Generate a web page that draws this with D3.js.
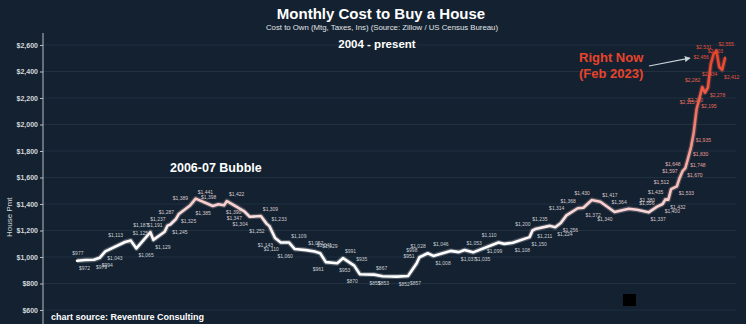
<!DOCTYPE html>
<html>
<head>
<meta charset="utf-8">
<script src="https://cdn.jsdelivr.net/npm/d3@7"></script>
<style>
  body { margin: 0; background: #132130; }
  svg { display: block; font-family: "Liberation Sans", Arial, sans-serif; }
</style>
</head>
<body>
<div id="chart"></div>
<script>
// data
const months = [
  "2004-01","2004-04","2004-07","2004-09","2004-11","2005-06","2005-08","2005-10",
  "2006-03","2006-04","2006-08","2006-09","2006-10","2006-12","2007-01","2007-05",
  "2007-07","2008-01","2008-03","2008-05","2008-06","2008-12","2009-02","2009-06",
  "2009-08","2009-09","2009-11","2010-01","2010-04","2010-06","2010-10","2011-01",
  "2011-03","2011-05","2011-09","2011-11","2012-03","2012-05","2012-10","2013-01",
  "2013-04","2013-06","2013-10","2014-01","2014-02","2014-05","2014-07","2015-01",
  "2015-04","2015-06","2015-09","2016-06","2016-08","2016-11","2017-05","2017-06",
  "2017-07","2017-12","2018-02","2018-04","2018-06","2018-10","2018-12","2019-03",
  "2019-06","2019-11","2020-04","2020-07","2020-11","2021-02","2021-04","2021-05",
  "2021-06","2021-07","2021-09","2021-10","2021-11","2021-12","2022-01","2022-02",
  "2022-03","2022-04","2022-05","2022-06","2022-07","2022-08","2022-09","2022-10",
  "2022-11","2022-12","2023-01","2023-02"
];
const payments = [
  972, 977, 979, 994, 1043, 1113, 1125, 1065,
  1187, 1129, 1191, 1237, 1245, 1287, 1325, 1389,
  1441, 1385, 1398, 1390, 1422, 1347, 1304, 1309,
  1252, 1233, 1143, 1110, 1109, 1060, 1052, 1041,
  1029, 961, 953, 991, 935, 870, 867, 855,
  853, 852, 857, 951, 998, 1028, 1008, 1046,
  1037, 1053, 1035, 1110, 1099, 1108, 1150, 1200,
  1211, 1235, 1224, 1256, 1314, 1368, 1372, 1430,
  1417, 1340, 1364, 1356, 1337, 1380, 1400, 1435,
  1432, 1512, 1533, 1597, 1648, 1670, 1748, 1830,
  1935, 2115, 2195, 2282, 2240, 2278, 2456, 2531,
  2555, 2434, 2412, 2503
];
const yTicks = [600, 800, 1000, 1200, 1400, 1600, 1800, 2000, 2200, 2400, 2600];

const width = 746, height = 324;
const margin = { top: 45, right: 21, bottom: 14, left: 43 };

const parseMonth = d3.timeParse("%Y-%m");
const data = months.map((m, i) => ({ date: parseMonth(m), value: payments[i] }));

const svg = d3.select("#chart").append("svg")
  .attr("width", width).attr("height", height);

svg.append("rect").attr("width", width).attr("height", height).attr("fill", "#132130");

// scales
const x = d3.scaleTime()
  .domain(d3.extent(data, d => d.date))
  .range([77, width - margin.right]);
const y = d3.scaleLinear()
  .domain([600, 2600])
  .range([height - margin.bottom, margin.top]);

// grid
svg.append("g")
  .selectAll("line")
  .data(yTicks)
  .join("line")
  .attr("x1", margin.left).attr("x2", width - 10)
  .attr("y1", d => y(d)).attr("y2", d => y(d))
  .attr("stroke", "#213140").attr("stroke-width", 1);

// y axis
const yAxis = svg.append("g")
  .attr("transform", `translate(${margin.left},0)`)
  .call(d3.axisLeft(y).tickValues(yTicks)
    .tickFormat(d => "$" + d3.format(",")(d))
    .tickSize(3).tickSizeOuter(0).tickPadding(2));
yAxis.select(".domain").remove();
yAxis.selectAll(".tick line").attr("stroke", "#b8bec4");
yAxis.selectAll(".tick text")
  .attr("fill", "#d4d8dc").attr("font-size", 7).attr("font-weight", "bold")
  .attr("font-family", "Liberation Sans, Arial, sans-serif");
svg.append("line")
  .attr("x1", margin.left).attr("x2", margin.left)
  .attr("y1", 33).attr("y2", height)
  .attr("stroke", "#b8bec4").attr("stroke-width", 1);

svg.append("text")
  .attr("transform", `translate(12,${(y(1400) + y(1200)) / 2}) rotate(-90)`)
  .attr("text-anchor", "middle")
  .attr("fill", "#d4d8dc").attr("font-size", 8)
  .text("House Pmt");

// line colour by value
const defs = svg.append("defs");
const stops = [
  { v: 1100, c: "#ffffff" },
  { v: 1350, c: "#f9d6d6" },
  { v: 1650, c: "#f6b3ab" },
  { v: 1950, c: "#f3867a" },
  { v: 2250, c: "#ee5a45" },
  { v: 2550, c: "#e8432b" }
];
const grad = defs.append("linearGradient")
  .attr("id", "lineGrad")
  .attr("gradientUnits", "userSpaceOnUse")
  .attr("x1", 0).attr("x2", 0)
  .attr("y1", y(600)).attr("y2", y(2600));
grad.selectAll("stop")
  .data(stops)
  .join("stop")
  .attr("offset", d => (d.v - 600) / 2000)
  .attr("stop-color", d => d.c);

const line = d3.line()
  .x(d => x(d.date))
  .y(d => y(d.value));

svg.append("path")
  .datum(data)
  .attr("d", line)
  .attr("fill", "none")
  .attr("stroke", "url(#lineGrad)")
  .attr("stroke-opacity", 0.25)
  .attr("stroke-width", 5)
  .attr("stroke-linejoin", "round");
svg.append("path")
  .datum(data)
  .attr("d", line)
  .attr("fill", "none")
  .attr("stroke", "url(#lineGrad)")
  .attr("stroke-width", 2.6)
  .attr("stroke-linejoin", "round")
  .attr("stroke-linecap", "round");

// point labels
const labelColor = d3.scaleLinear()
  .domain([1150, 1450, 1800, 2150, 2500])
  .range(["#c9ced4", "#dcc8cb", "#e8a39c", "#e66e5e", "#e4503a"])
  .clamp(true);

svg.append("g")
  .selectAll("text")
  .data(data)
  .join("text")
  .each(function (d, i) {
    const prev = data[Math.max(i - 1, 0)].value;
    const next = data[Math.min(i + 1, data.length - 1)].value;
    const above = d.value >= (prev + next) / 2;
    const rising = next >= prev;
    const left = above === rising;
    d3.select(this)
      .attr("x", x(d.date) + (left ? -2 : 2))
      .attr("y", y(d.value) + (above ? -5 : 9))
      .attr("text-anchor", left ? "end" : "start");
  })
  .attr("font-size", 5)
  .attr("fill", d => labelColor(d.value))
  .text(d => "$" + d3.format(",")(d.value));

// titles
svg.append("text")
  .attr("x", 381).attr("y", 19)
  .attr("text-anchor", "middle")
  .attr("fill", "#ffffff").attr("font-size", 15).attr("font-weight", "bold")
  .text("Monthly Cost to Buy a House");
svg.append("text")
  .attr("x", 382).attr("y", 30)
  .attr("text-anchor", "middle")
  .attr("fill", "#e2e5e8").attr("font-size", 7.8)
  .text("Cost to Own (Mtg, Taxes, Ins) (Source: Zillow / US Census Bureau)");
svg.append("text")
  .attr("x", 377).attr("y", 48)
  .attr("text-anchor", "middle")
  .attr("fill", "#ffffff").attr("font-size", 11.5).attr("font-weight", "bold")
  .text("2004 - present");

svg.append("text")
  .attr("x", 170).attr("y", 172)
  .attr("fill", "#ffffff").attr("font-size", 12.5).attr("font-weight", "bold")
  .text("2006-07 Bubble");

// "Right Now" annotation
const latestPeak = data[data.length - 5];
svg.append("text")
  .attr("x", 579).attr("y", 62)
  .attr("fill", "#e8442c").attr("font-size", 13).attr("font-weight", "bold")
  .text("Right Now");
svg.append("text")
  .attr("x", 579).attr("y", 78)
  .attr("fill", "#e8442c").attr("font-size", 13).attr("font-weight", "bold")
  .text("(Feb 2023)");

defs.append("marker")
  .attr("id", "arrow")
  .attr("viewBox", "0 0 10 10")
  .attr("refX", 8).attr("refY", 5)
  .attr("markerWidth", 5).attr("markerHeight", 5)
  .attr("orient", "auto")
  .append("path")
  .attr("d", "M0,0L10,5L0,10z")
  .attr("fill", "#c9d2da");
svg.append("line")
  .attr("x1", 649).attr("y1", 66)
  .attr("x2", x(latestPeak.date) - 24).attr("y2", y(latestPeak.value) + 4)
  .attr("stroke", "#c9d2da").attr("stroke-width", 1.2)
  .attr("marker-end", "url(#arrow)");

svg.append("text")
  .attr("x", 51).attr("y", 320)
  .attr("fill", "#ffffff").attr("font-size", 9).attr("font-weight", "bold")
  .text("chart source: Reventure Consulting");

// dark square in the source image
svg.append("rect")
  .attr("x", 623).attr("y", 294)
  .attr("width", 13).attr("height", 12)
  .attr("fill", "#000000");
</script>
</body>
</html>
